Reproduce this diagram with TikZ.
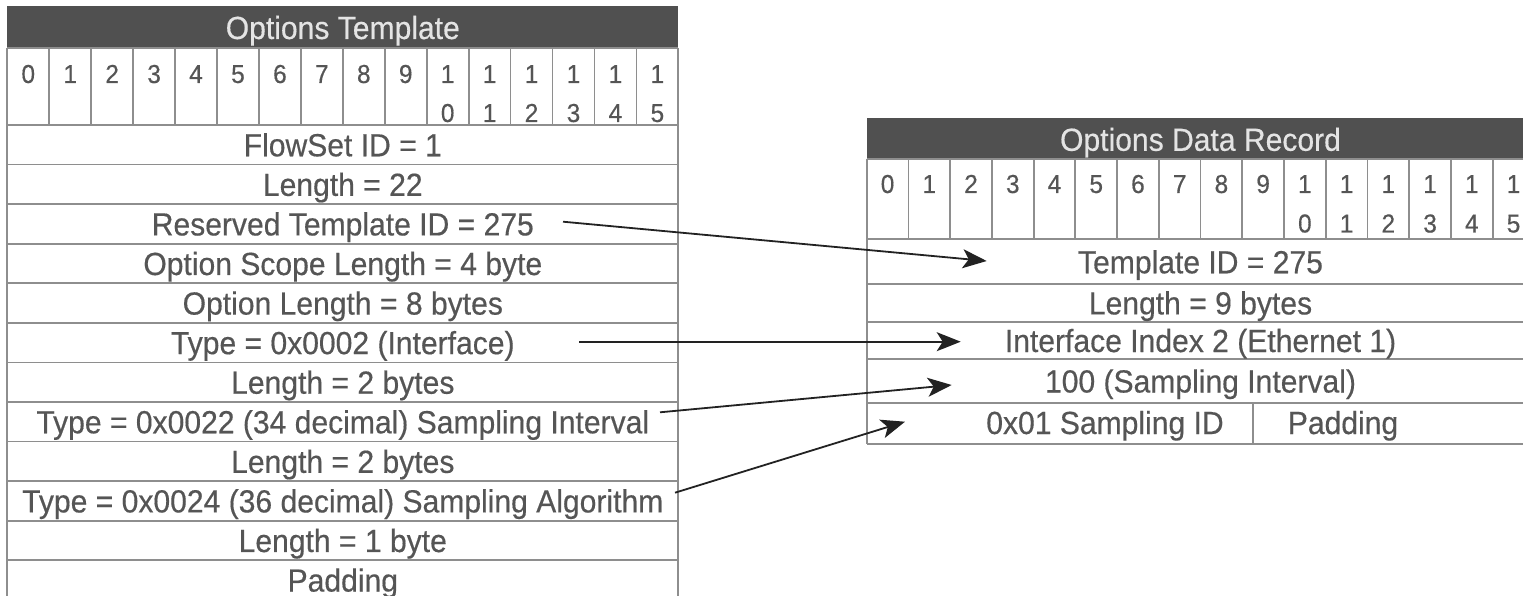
\documentclass[tikz,border=0pt]{standalone}
\usepackage{fontspec}
\setmainfont{Liberation Sans}[FakeStretch=0.94,FakeBold=0.4]
\usetikzlibrary{arrows.meta}
\definecolor{hdr}{HTML}{505050}
\definecolor{gridc}{HTML}{8E8E8E}
\definecolor{txt}{HTML}{555555}
\definecolor{hdrtxtc}{HTML}{E4E4E4}
\definecolor{arr}{HTML}{222222}
\begin{document}
\begin{tikzpicture}[x=1pt,y=-1pt,
  gridline/.style={draw=gridc,line width=1.8pt},
  rowtxt/.style={text=txt,font=\fontsize{32}{32}\selectfont,inner sep=0pt,anchor=base},
  bittxt/.style={text=txt,font=\fontsize{26}{26}\selectfont,inner sep=0pt,anchor=base},
  headtxt/.style={text=hdrtxtc,font=\fontsize{32}{32}\selectfont,inner sep=0pt,anchor=base},
  link/.style={draw=arr,line width=1.8pt,-{Stealth[length=24pt,width=19pt,inset=6pt]}}]
\useasboundingbox (0,0) rectangle (1523,596);
\clip (0,0) rectangle (1523,596);
\fill[white] (0,0) rectangle (1523,596);

% ---------- Left table: Options Template ----------
\fill[hdr] (7.3,6) rectangle (678.3,48);
\node[headtxt] (lhead) at (342.8,39) {Options Template};
\draw[gridline] (7.3,48) -- (7.3,600) (678.3,48) -- (678.3,600);
\draw[gridline] (7.3,48) -- (678.3,48);
\foreach \k in {0,...,11} {
  \draw[gridline] (7.3,{125+\k*39.57}) -- (678.3,{125+\k*39.57});
}
\foreach \i in {1,...,15} {
  \draw[gridline] ({7.3+\i*41.94},48) -- ({7.3+\i*41.94},125);
}
\foreach \i in {0,...,15} {
  \pgfmathsetmacro\cx{7.3+(\i+0.5)*41.94}
  \ifnum\i<10
    \node[bittxt] (lb\i) at (\cx,83) {\i};
  \else
    \pgfmathtruncatemacro\d{\i-10}
    \node[bittxt] (lb\i) at (\cx,83) {1};
    \node[bittxt] (lc\i) at (\cx,122) {\d};
  \fi
}
\foreach \t [count=\n] in {{FlowSet ID = 1},{Length = 22},{Reserved Template ID = 275},
  {Option Scope Length = 4 byte},{Option Length = 8 bytes},{Type = 0x0002 (Interface)},
  {Length = 2 bytes},{Type = 0x0022 (34 decimal) Sampling Interval},{Length = 2 bytes},
  {Type = 0x0024 (36 decimal) Sampling Algorithm},{Length = 1 byte},{Padding}} {
  \node[rowtxt] (l\n) at (342.8,{125+(\n-0.5)*39.57+11.5}) {\t};
}

% ---------- Right table: Options Data Record ----------
\fill[hdr] (866.7,118.3) rectangle (1540,159.3);
\node[headtxt] (rhead) at (1200.5,150.8) {Options Data Record};
\draw[gridline] (866.7,159.3) -- (866.7,444.3);
\draw[gridline] (866.7,159.3) -- (1540,159.3);
\foreach \yy in {239.3,284,321.7,359.3,402.7,444.3} {
  \draw[gridline] (866.7,\yy) -- (1540,\yy);
}
\foreach \i in {1,...,15} {
  \draw[gridline] ({866.7+\i*41.73},159.3) -- ({866.7+\i*41.73},239.3);
}
\draw[gridline] (1253,402.7) -- (1253,444.3);
\foreach \i in {0,...,15} {
  \pgfmathsetmacro\cx{866.7+(\i+0.5)*41.73}
  \ifnum\i<10
    \node[bittxt] (rb\i) at (\cx,193) {\i};
  \else
    \pgfmathtruncatemacro\d{\i-10}
    \node[bittxt] (rb\i) at (\cx,193) {1};
    \node[bittxt] (rc\i) at (\cx,232.5) {\d};
  \fi
}
\node[rowtxt] (r1) at (1200.5,273.3) {Template ID = 275};
\node[rowtxt] (r2) at (1200.5,314.4) {Length = 9 bytes};
\node[rowtxt] (r3) at (1200.5,352) {Interface Index 2 (Ethernet 1)};
\node[rowtxt] (r4) at (1200.5,392.5) {100 (Sampling Interval)};
\node[rowtxt] (r5a) at (1105,434) {0x01 Sampling ID};
\node[rowtxt] (r5b) at (1343,434) {Padding};

% ---------- Connectors ----------
\coordinate (s1) at (563,221.7);  \coordinate (e1) at (986.7,261);
\coordinate (s2) at (579,341.7);  \coordinate (e2) at (960.7,341.7);
\coordinate (s3) at (660,412.3);  \coordinate (e3) at (951.7,385);
\coordinate (s4) at (675,492.7);  \coordinate (e4) at (905,421.7);
\draw[link] (s1) -- (e1);
\draw[link] (s2) -- (e2);
\draw[link] (s3) -- (e3);
\draw[link] (s4) -- (e4);
\end{tikzpicture}
\end{document}
